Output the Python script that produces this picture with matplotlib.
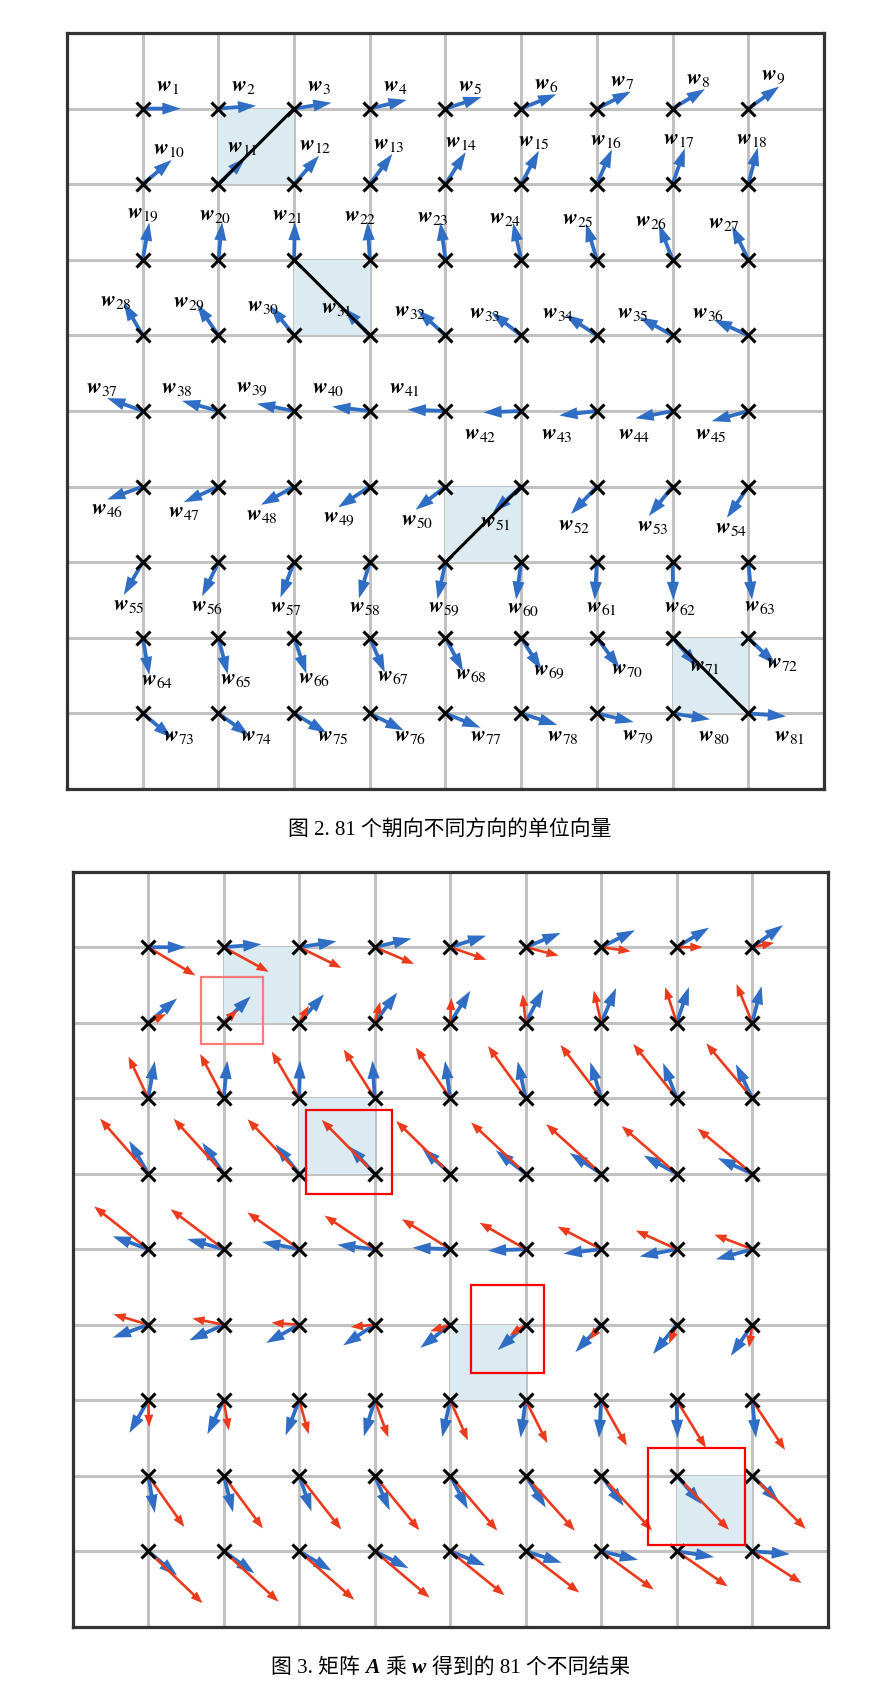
import numpy as np
import matplotlib
matplotlib.use("Agg")
import matplotlib.pyplot as plt
from matplotlib.patches import Rectangle
from matplotlib.offsetbox import TextArea, HPacker, AnchoredOffsetbox

plt.rcParams['mathtext.fontset'] = 'stix'

# directions (degrees) of the 81 unit vectors w1..w81, read row by row
angles_deg = [0.0, 4.4, 8.9, 13.3, 17.8, 22.2, 26.7, 31.1, 35.6,
              40.0, 44.4, 48.9, 53.3, 57.8, 62.2, 66.7, 71.1, 75.6,
              80.0, 84.4, 88.9, 93.3, 97.8, 102.2, 106.7, 111.1, 115.6,
              120.0, 124.4, 128.9, 133.3, 137.8, 142.2, 146.7, 151.1, 155.6,
              160.0, 164.4, 168.9, 173.3, 177.8, 182.2, 186.7, 191.1, 195.6,
              200.0, 204.4, 208.9, 213.3, 217.8, 222.2, 226.7, 231.1, 235.6,
              240.0, 244.4, 248.9, 253.3, 257.8, 262.2, 266.7, 271.1, 275.6,
              280.0, 284.4, 288.9, 293.3, 297.8, 302.2, 306.7, 311.1, 315.6,
              320.0, 324.4, 328.9, 333.3, 337.8, 342.2, 346.7, 351.1, 355.6]

# the matrix A of figure 3
A = np.array([[1.25, -0.75],
              [-0.75, 1.25]])

# highlighted vectors and the eigen-directions drawn through them
highlight_idx = [11, 31, 51, 71]
eigen_dirs = [45, 135, 225, 315]

caption_top = "图 2. 81 个朝向不同方向的单位向量"
caption_bottom = [("图 3. 矩阵", "cjk"), ("A", "bi"), ("乘", "cjk"), ("w", "bi"),
                  ("得到的 81 个不同结果", "cjk")]

# red boxes in fig 3 (extent around the point: x0, x1, y0, y1) and colour
red_boxes = [((-0.30, 0.52, -0.28, 0.60), '#ff7b7b'),
             ((-0.91, 0.23, -0.27, 0.85), '#ff0000'),
             ((-0.72, 0.24, -0.64, 0.52), '#ff0000'),
             ((-0.38, 0.90, -0.92, 0.37), '#ff0000')]

BLUE = '#2f6ec4'
RED = '#ec3b1c'
SQ = '#dceaf2'
SCALE = 0.5

theta = np.radians(angles_deg)
W = np.vstack([np.cos(theta), np.sin(theta)])
AW = A @ W
px = np.array([k % 9 + 1 for k in range(81)], dtype=float)
py = np.array([10 - (k // 9 + 1) for k in range(81)], dtype=float)

fig = plt.figure(figsize=(8.7, 16.97), dpi=100)
ax1 = fig.add_axes([67/870, 1-789/1697, 757/870, 756/1697])
ax2 = fig.add_axes([72.7/870, 1-1626.7/1697, 755/870, 755/1697])


def setup(ax):
    ax.set_xlim(0, 10)
    ax.set_ylim(0, 10)
    ax.set_xticks(range(1, 10))
    ax.set_yticks(range(1, 10))
    ax.tick_params(length=0, labelbottom=False, labelleft=False)
    ax.grid(True, color='#c2c2c2', lw=2.2)
    ax.set_axisbelow(True)
    for s in ax.spines.values():
        s.set_color('#333333')
        s.set_linewidth(2.3)


def squares(ax):
    for idx, d in zip(highlight_idx, eigen_dirs):
        k = idx - 1
        sx = np.sign(np.cos(np.radians(d)))
        sy = np.sign(np.sin(np.radians(d)))
        ax.add_patch(Rectangle((min(px[k], px[k] + sx), min(py[k], py[k] + sy)), 1, 1,
                               facecolor=SQ, edgecolor='none', zorder=1))


def blue_arrows(ax):
    for k in range(81):
        ax.arrow(px[k], py[k], SCALE * W[0, k], SCALE * W[1, k], width=0.05,
                 head_width=0.16, head_length=0.24, length_includes_head=True,
                 color=BLUE, lw=0, zorder=3)


# ---- figure 2 ----
setup(ax1)
squares(ax1)
blue_arrows(ax1)
for idx, d in zip(highlight_idx, eigen_dirs):
    k = idx - 1
    sx = np.sign(np.cos(np.radians(d)))
    sy = np.sign(np.sin(np.radians(d)))
    ax1.plot([px[k], px[k] + sx], [py[k], py[k] + sy], color='black', lw=2.2, zorder=4)
ax1.plot(px, py, 'x', color='black', ms=10, mew=2.2, zorder=5)

for k in range(81):
    phi = theta[k] + np.radians(10)
    dx = 0.55 * np.cos(phi)
    dy = 0.6 * np.sin(phi)
    up = angles_deg[k] < 180
    if abs(dy) < 0.3:
        dy = 0.3 if up else -0.3
    if angles_deg[k] < 40:
        dx = 0.33
    ax1.text(px[k] + dx, py[k] + dy, r'$\mathbfit{w}_{%d}$' % (k + 1),
             ha='center', va='center', fontsize=16, zorder=6)

fig.text(0.517, 1-830/1697, caption_top, ha='center', va='center', fontsize=15,
         family=['Liberation Serif', 'Noto Sans CJK SC'])

# ---- figure 3 ----
setup(ax2)
squares(ax2)
blue_arrows(ax2)
for k in range(81):
    ax2.arrow(px[k], py[k], SCALE * AW[0, k], SCALE * AW[1, k], width=0.035,
              head_width=0.12, head_length=0.16, length_includes_head=True,
              color=RED, lw=0, zorder=4)
ax2.plot(px, py, 'x', color='black', ms=10, mew=2.2, zorder=5)
for idx, (ext, col) in zip(highlight_idx, red_boxes):
    k = idx - 1
    x0, x1, y0, y1 = ext
    ax2.add_patch(Rectangle((px[k] + x0, py[k] + y0), x1 - x0, y1 - y0,
                            fill=False, edgecolor=col, lw=1.6, zorder=6))

props = {
    'cjk': dict(family=['Liberation Serif', 'Noto Sans CJK SC'], fontsize=15),
    'bi': dict(family='Liberation Serif', fontsize=15.5, weight='bold', style='italic'),
}
box = HPacker(children=[TextArea(t, textprops=props[p]) for t, p in caption_bottom],
              align='baseline', pad=0, sep=4)
anch = AnchoredOffsetbox(loc='center', child=box, frameon=False, pad=0, borderpad=0,
                         bbox_to_anchor=(0.518, 1-1668/1697),
                         bbox_transform=fig.transFigure)
fig.add_artist(anch)

fig.savefig('out.png', dpi=100)
